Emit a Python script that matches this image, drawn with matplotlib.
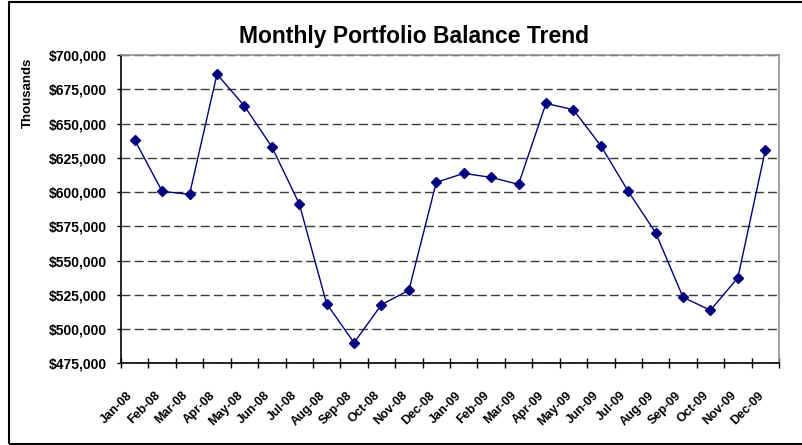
import matplotlib
matplotlib.use("Agg")
import matplotlib.pyplot as plt
import matplotlib.ticker as mticker
from matplotlib.patches import Rectangle
from matplotlib.transforms import ScaledTranslation
import numpy as np

plt.rcParams['font.family'] = ['Liberation Sans', 'DejaVu Sans']

# data
months = ["Jan-08", "Feb-08", "Mar-08", "Apr-08", "May-08", "Jun-08",
          "Jul-08", "Aug-08", "Sep-08", "Oct-08", "Nov-08", "Dec-08",
          "Jan-09", "Feb-09", "Mar-09", "Apr-09", "May-09", "Jun-09",
          "Jul-09", "Aug-09", "Sep-09", "Oct-09", "Nov-09", "Dec-09"]
balance = [638000, 600500, 598300, 686000, 662800, 633000,
           591500, 518500, 490000, 517800, 528300, 607100,
           613600, 610700, 605600, 664700, 660100, 633800,
           600500, 570300, 523200, 513700, 537500, 630400]
y_ticks = [475000, 500000, 525000, 550000, 575000, 600000,
           625000, 650000, 675000, 700000]

W, H = 803, 445
fig = plt.figure(figsize=(W / 100, H / 100), dpi=100)
ax = fig.add_axes([121 / W, 1 - 363.3 / H, (779 - 121) / W, (363.3 - 55) / H])

x = np.arange(len(months))
ax.plot(x, balance, color='#000080', lw=1.0, marker='D', markersize=4.8,
        markerfacecolor='#000080', markeredgecolor='#000080', zorder=3)

ax.set_xlim(-0.5, len(months) - 0.5)
ax.set_ylim(y_ticks[0], y_ticks[-1])

# y axis
ax.set_yticks(y_ticks)
ax.yaxis.set_major_formatter(mticker.StrMethodFormatter('${x:,.0f}'))
ax.tick_params(axis='y', direction='out', length=3, width=1, pad=7,
               labelsize=10)
for lab in ax.get_yticklabels():
    lab.set_fontweight('bold')

# x axis: labels at category centres, ticks on the boundaries
ax.set_xticks(x)
ax.set_xticklabels(months, rotation=45, ha='right', va='top',
                   rotation_mode='anchor', fontsize=9, fontweight='bold')
ax.tick_params(axis='x', which='major', length=0, pad=13)
shift = ScaledTranslation(-8 / 100, -8 / 100, fig.dpi_scale_trans)
for lab in ax.get_xticklabels():
    lab.set_transform(lab.get_transform() + shift)
ax.set_xticks(np.arange(-0.5, len(months), 1), minor=True)
ax.tick_params(axis='x', which='minor', direction='inout', length=7, width=1)

ax.grid(axis='y', color='#3a3a3a', lw=1.0, linestyle=(0, (6.5, 3)))
ax.set_axisbelow(True)

for s in ['top', 'right']:
    ax.spines[s].set_color('#909090')
    ax.spines[s].set_linewidth(1.2)
for s in ['left', 'bottom']:
    ax.spines[s].set_color('black')
    ax.spines[s].set_linewidth(1.2)

fig.text(414.5 / W, 1 - 43 / H, "Monthly Portfolio Balance Trend",
         ha='center', va='baseline', fontsize=16.5, fontweight='bold')
fig.text(28 / W, 1 - 93 / H, "Thousands", rotation=90, ha='center',
         va='center', fontsize=9.5, fontweight='bold')

# outer chart frame (right edge falls outside the picture)
fig.patches.append(Rectangle((8.5 / W, 1.5 / H), (W + 20) / W, (H - 3.5) / H,
                             transform=fig.transFigure, fill=False,
                             edgecolor='black', lw=1.5))

fig.savefig("out.png", dpi=100)
